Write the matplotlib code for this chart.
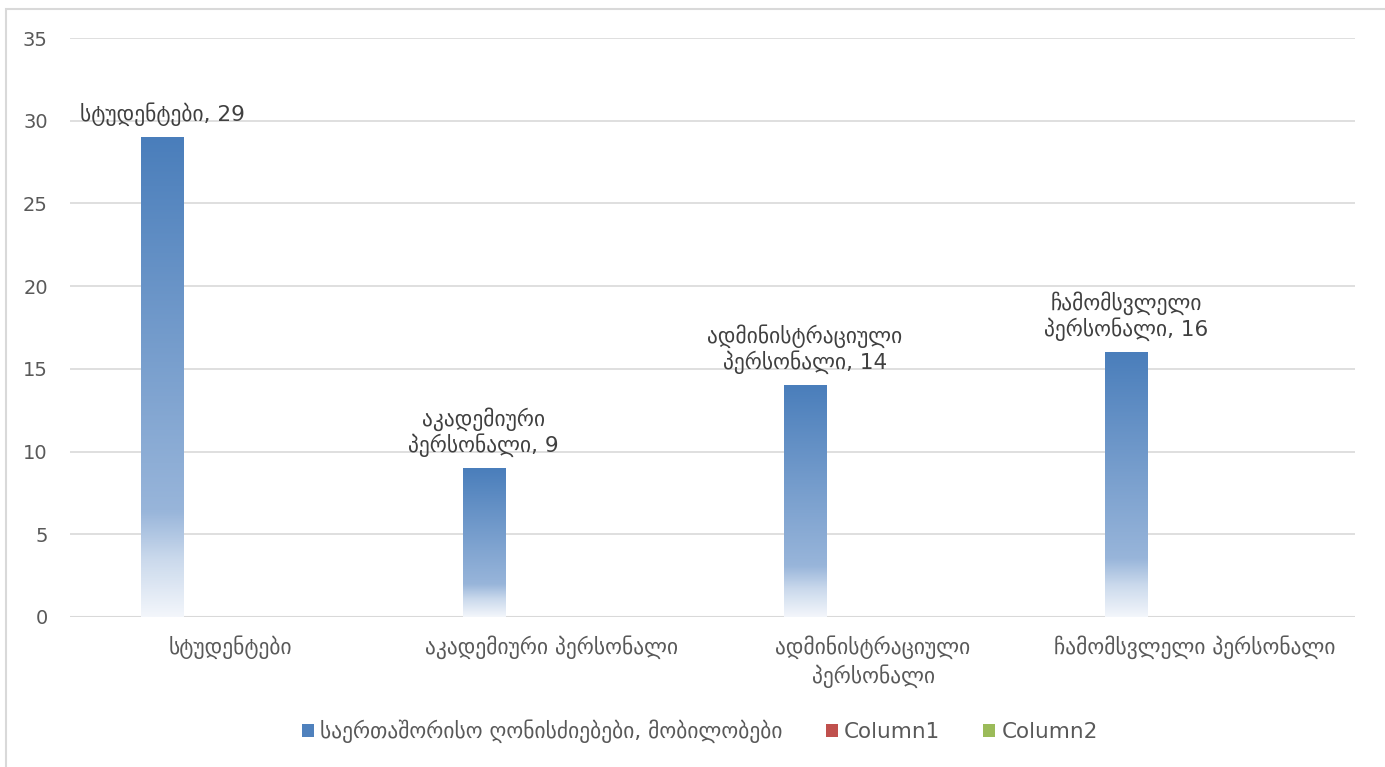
import matplotlib
matplotlib.use("Agg")
import matplotlib.pyplot as plt
import numpy as np
from matplotlib.colors import LinearSegmentedColormap
from matplotlib.patches import Patch, Rectangle

categories = ["სტუდენტები", "აკადემიური პერსონალი", "ადმინისტრაციული\nპერსონალი", "ჩამომსვლელი პერსონალი"]
values = [29, 9, 14, 16]
data_labels = ["სტუდენტები, 29", "აკადემიური\nპერსონალი, 9", "ადმინისტრაციული\nპერსონალი, 14", "ჩამომსვლელი\nპერსონალი, 16"]
series_names = ["საერთაშორისო ღონისძიებები, მობილობები", "Column1", "Column2"]
yticks = [0, 5, 10, 15, 20, 25, 30, 35]

plt.rcParams['font.family'] = ['DejaVu Sans']

fig = plt.figure(figsize=(13.85, 7.67), dpi=100)
ax = fig.add_axes([70/1385, 1-617/767, (1355-70)/1385, (617-38)/767])

x = np.arange(len(categories))
bars = ax.bar(x - 0.212, values, width=0.131, color='none', edgecolor='none', zorder=3)

cmap = LinearSegmentedColormap.from_list("grad", [(0.0, "#f3f6fb"), (0.12, "#cad9ec"), (0.22, "#98b5da"), (1.0, "#4a7ebb")])
grad = np.linspace(0, 1, 256).reshape(-1, 1)
for b in bars:
    x0, y0, w, h = b.get_x(), b.get_y(), b.get_width(), b.get_height()
    im = ax.imshow(grad, cmap=cmap, origin='lower', aspect='auto',
                   extent=[x0, x0 + w, y0, y0 + h], zorder=3)
    im.set_clip_path(b)

for b, lab in zip(bars, data_labels):
    ax.annotate(lab, (b.get_x() + b.get_width() / 2, b.get_height()),
                xytext=(0, 8), textcoords='offset points', ha='center', va='bottom',
                fontsize=15.5, color='#404040', linespacing=1.15, zorder=4)

ax.set_xlim(-0.5, len(categories) - 0.5)
ax.set_ylim(0, 35)
ax.set_yticks(yticks)
ax.set_xticks(x)
ax.set_xticklabels(categories, fontsize=15.5, color='#595959', linespacing=1.3)
ax.tick_params(axis='y', length=0, pad=16, labelsize=14, labelcolor='#595959')
ax.tick_params(axis='x', length=0, pad=13)
ax.grid(axis='y', color='#d9d9d9', linewidth=1.2, zorder=0)
ax.set_axisbelow(True)
for s in ax.spines.values():
    s.set_visible(False)
ax.axhline(0, color='#d9d9d9', linewidth=1.5, zorder=1)

handles = [Patch(facecolor=c, edgecolor='none') for c in ["#4f81bd", "#c0504d", "#9bbb59"]]
fig.legend(handles, series_names, loc='center', bbox_to_anchor=(700/1385, 1-731/767), ncol=3,
           frameon=False, fontsize=15.5, labelcolor='#595959', handlelength=0.55, handleheight=0.55,
           handletextpad=0.3, columnspacing=2.0)

fig.patches.append(Rectangle((6/1385, -0.01), 1.5, 1 - 9/767 + 0.01, transform=fig.transFigure,
                             fill=False, edgecolor='#d9d9d9', linewidth=1.5))

fig.savefig("out.png", dpi=100, facecolor='white')
